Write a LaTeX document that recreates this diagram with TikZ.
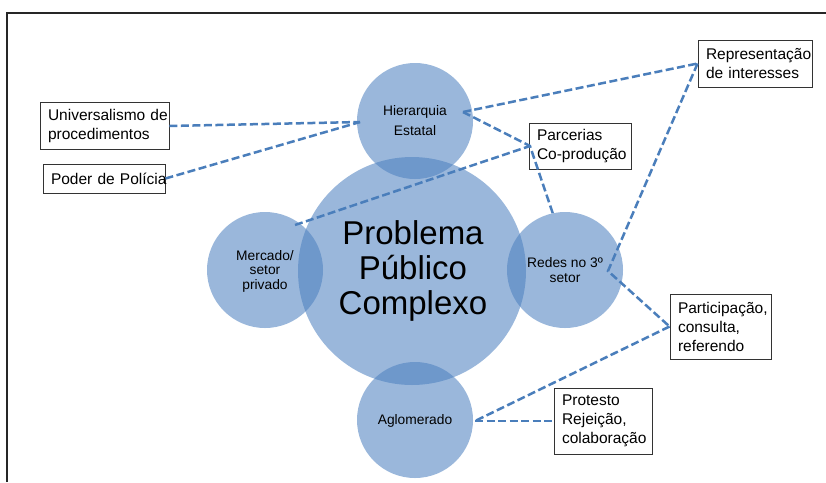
\documentclass[tikz,border=0pt]{standalone}
\usepackage{fontspec}
\setmainfont{Liberation Sans}
\newcommand{\bxline}[1]{\mbox{#1}}
\begin{document}
\begin{tikzpicture}[x=1pt,y=-1pt,
  bubble/.style={circle, fill=bubblecol, fill opacity=0.56, text opacity=1, draw=none, inner sep=0pt, align=center},
  box/.style={draw=black!80, line width=0.9pt, fill=white, inner xsep=8pt, align=left, font=\fontsize{15.5}{19}\selectfont, anchor=center},
  link/.style={draw=linkcol, line width=2.5pt, dash pattern=on 8pt off 3.5pt},
  small/.style={font=\fontsize{13.8}{15}\selectfont}
]
\definecolor{bubblecol}{RGB}{76,128,192}
\definecolor{linkcol}{RGB}{74,126,187}
\useasboundingbox (0,0) rectangle (826,482);
\fill[white] (0,0) rectangle (826,482);
% frame
\draw[line width=1.8pt, black!85] (7,482) -- (7,13) -- (826,13);

% circles
\node[bubble, minimum size=228] (big) at (412,271) {};
\node[bubble, minimum size=116] (hier) at (415,121) {};
\node[bubble, minimum size=116] (redes) at (565,270) {};
\node[bubble, minimum size=116] (merc) at (265,270) {};
\node[bubble, minimum size=116] (aglo) at (415,420) {};

% texts in circles
\node[font=\fontsize{33}{35}\selectfont, align=center] (bigt) at (413,271) {Problema\\Público\\Complexo};
\node[font=\fontsize{13.8}{20}\selectfont, align=center] (hiert) at (415,121) {Hierarquia\\Estatal};
\node[small, align=center] (redest) at (565,270) {Redes no 3º\\setor};
\node[font=\fontsize{13.8}{14.5}\selectfont, align=center] (merct) at (265,271) {Mercado/\\setor\\privado};
\node[small, align=center] (aglot) at (415,421) {Aglomerado};

% boxes
\node[box, minimum width=129, minimum height=47, text width=113] (univ) at (104.5,126) {\bxline{Universalismo de}\\\bxline{procedimentos}};
\node[box, minimum width=122, minimum height=29, text width=106] (poder) at (104,178.5) {\bxline{Poder de Polícia}};
\node[box, minimum width=102, minimum height=46, text width=86] (parc) at (580,146) {\bxline{Parcerias}\\\bxline{Co-produção}};
\node[box, minimum width=114, minimum height=47, text width=98] (repr) at (755,63.5) {\bxline{Representação}\\\bxline{de interesses}};
\node[box, minimum width=101, minimum height=65, text width=85] (part) at (720.5,326.5) {\bxline{Participação,}\\\bxline{consulta,}\\\bxline{referendo}};
\node[box, minimum width=98, minimum height=66, text width=82] (prot) at (603,421) {\bxline{Protesto}\\\bxline{Rejeição,}\\\bxline{colaboração}};

% connection points
\coordinate (hL) at (360,122);
\coordinate (hR) at (463,112);
\coordinate (pcB) at (530,146);
\coordinate (rT) at (553,214);
\coordinate (mT) at (295,225);
\coordinate (rC) at (608,271);
\coordinate (aR) at (475,421);

% connectors
\draw[link] (univ.east |- 0,126) -- (hL);
\draw[link] (poder.east) -- (hL);
\draw[link] (hR) -- (repr.west);
\draw[link] (hR) -- (pcB) -- (rT);
\draw[link] (mT) -- (pcB);
\draw[link] (repr.west) -- (rC) -- (part.west);
\draw[link] (part.west) -- (aR);
\draw[link] (aR) -- (prot.west);
\end{tikzpicture}
\end{document}
